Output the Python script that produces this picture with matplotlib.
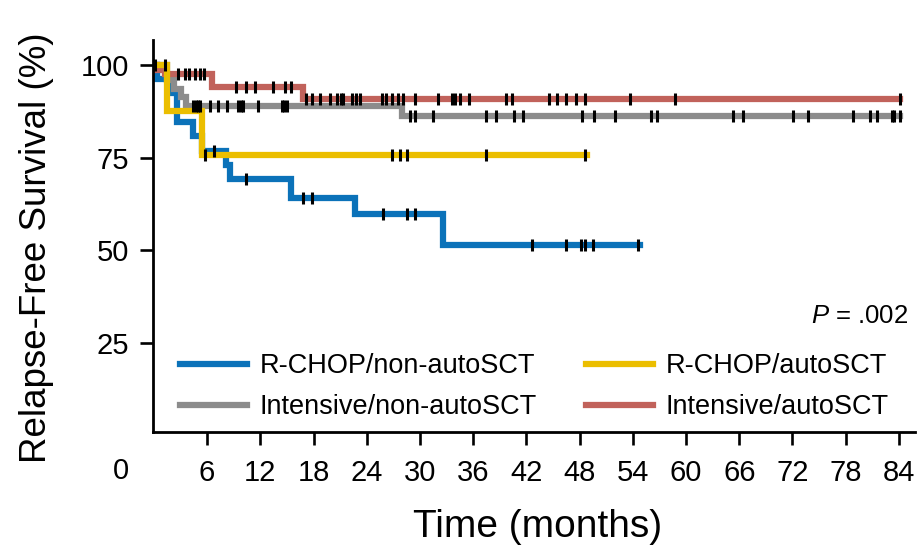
import numpy as np
import matplotlib
matplotlib.use("Agg")
import matplotlib.pyplot as plt

plt.rcParams['font.family'] = ['Liberation Sans', 'DejaVu Sans']
plt.rcParams['mathtext.fontset'] = 'custom'
plt.rcParams['mathtext.it'] = 'Liberation Sans:italic'
plt.rcParams['mathtext.rm'] = 'Liberation Sans'

# Kaplan-Meier step curves: event times (months) and survival (%)
blue_t = [0, 0.4, 2.0, 2.6, 4.4, 5.4, 8.1, 8.6, 15.5, 22.7, 32.6, 54.8]
blue_s = [100, 96.2, 92.3, 84.6, 80.8, 76.9, 73.1, 69.2, 64.2, 59.7, 51.3, 51.3]
blue_cens = [6.75, 10.4, 16.8, 17.8, 25.8, 28.5, 29.4, 42.6, 46.5, 48.2, 48.6,
             49.5, 54.6]

yellow_t = [0, 1.45, 5.4, 48.8]
yellow_s = [100, 87.5, 75.6, 75.6]
yellow_cens = [5.75, 26.8, 27.7, 28.5, 37.5, 48.6]

gray_t = [0, 1.5, 2.3, 3.0, 3.6, 28.0, 84.1]
gray_s = [100, 96.0, 93.5, 91.2, 88.9, 86.3, 86.3]
gray_cens = [1.2, 4.4, 4.7, 5.0, 5.2, 6.3, 7.2, 8.2, 9.5, 9.8, 10.1, 11.7,
             14.4, 14.7, 15.0, 28.9, 29.4, 31.5, 37.5, 38.6, 40.6, 41.6,
             48.3, 49.6, 52.0, 56.0, 56.7, 65.3, 66.4, 72.1, 73.8, 78.8,
             80.7, 81.5, 83.2, 83.5, 84.1]

red_t = [0, 0.3, 1.2, 6.5, 16.8, 84.1]
red_s = [100, 98.7, 97.4, 94.1, 90.9, 90.9]
red_cens = [0.15, 2.7, 3.5, 4.0, 4.6, 5.2, 5.7, 9.3, 10.4, 11.4, 13.4, 14.8,
            15.5, 17.2, 17.8, 18.7, 19.8, 20.7, 21.1, 21.3, 22.3, 22.8, 23.2,
            25.7, 26.2, 26.9, 27.5, 28.1, 29.4, 32.0, 33.6, 33.9, 34.5, 35.5,
            39.7, 40.4, 44.5, 45.5, 46.5, 47.6, 48.6, 53.7, 58.7, 84.1]

labels = ["R-CHOP/non-autoSCT", "Intensive/non-autoSCT",
          "R-CHOP/autoSCT", "Intensive/autoSCT"]
colors = ["#0b72b9", "#8c8c8c", "#ebbe00", "#c1625b"]

x_ticks = list(range(6, 85, 6))
y_ticks = [25, 50, 75, 100]

fig = plt.figure(figsize=(9.19, 5.48), dpi=100)
ax = fig.add_axes([0.1665, 0.2117, 0.829, 0.7153])

series = [(blue_t, blue_s, blue_cens), (gray_t, gray_s, gray_cens),
          (yellow_t, yellow_s, yellow_cens), (red_t, red_s, red_cens)]
zorders = [2, 2.1, 2.3, 2.2]

handles = []
for (t, s, c), col, lab, z in zip(series, colors, labels, zorders):
    h, = ax.plot(t, s, drawstyle='steps-post', color=col, lw=4.5,
                 solid_joinstyle='miter', label=lab, zorder=z)
    handles.append(h)
for (t, s, c) in series:
    t = np.asarray(t)
    s = np.asarray(s)
    idx = np.searchsorted(t, np.asarray(c), side='right') - 1
    ax.plot(c, s[idx], ls='none', marker='|', color='black',
            markersize=8.5, markeredgewidth=2.2, zorder=4)

ax.set_xlim(-0.1, 85.8)
ax.set_ylim(1.0, 106.7)
ax.set_xticks(x_ticks)
ax.set_yticks(y_ticks)
ax.set_xticklabels([str(v) for v in x_ticks])
ax.set_yticklabels([str(v) for v in y_ticks])

for side in ('top', 'right'):
    ax.spines[side].set_visible(False)
for side in ('left', 'bottom'):
    ax.spines[side].set_linewidth(2.0)

ax.tick_params(axis='both', direction='out', length=9.5, width=1.9,
               labelsize=21, color='black')
ax.tick_params(axis='x', pad=10)
ax.tick_params(axis='y', pad=8)

fig.text(0.1311, 0.14, "0", fontsize=21, ha='center', va='center')

ax.set_xlabel("Time (months)", fontsize=28)
ax.xaxis.set_label_coords(0.505, -0.197)
ax.set_ylabel("Relapse-Free Survival (%)", fontsize=26.5)
ax.yaxis.set_label_coords(-0.13, 0.47)

ax.text(0.991, 0.296, r"$\it{P}$ = .002", transform=ax.transAxes,
        fontsize=18.5, ha='right', va='center')

ax.legend(handles=handles, loc='lower left', bbox_to_anchor=(0.035, 0.03),
          ncol=2, frameon=False, fontsize=19.5, borderpad=0, borderaxespad=0,
          handlelength=2.5, handletextpad=0.45, columnspacing=1.8,
          labelspacing=0.55)

fig.savefig("out.png", dpi=100, facecolor='white')
